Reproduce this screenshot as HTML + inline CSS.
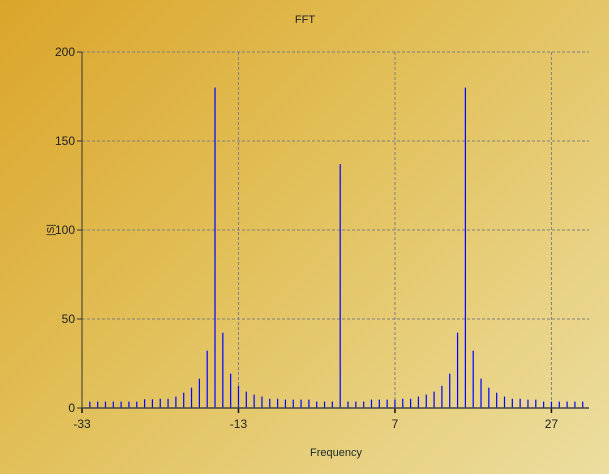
<!DOCTYPE html>
<html><head><meta charset="utf-8"><style>
html,body{margin:0;padding:0;}
body{width:609px;height:474px;overflow:hidden;background:linear-gradient(135deg,#dba52a 0%,#e2c05a 45%,#ecdea0 100%);font-family:"Liberation Sans",sans-serif;}
svg{display:block;}
svg text{font-family:"Liberation Sans",sans-serif;}
</style></head><body>
<svg id="chart" width="609" height="474" xmlns="http://www.w3.org/2000/svg">
<text x="305" y="23" font-size="11" text-anchor="middle" fill="#222">FFT</text>
<text x="336" y="456" font-size="11" text-anchor="middle" fill="#1a2a2a">Frequency</text>
<text x="0" y="0" font-size="10" text-anchor="middle" fill="#222" transform="translate(54,230) rotate(-90)">|S|</text>
<g id="grid"></g><g id="bars"></g><g id="axes"></g>
</svg>
<script>
const freqs=[];for(let k=-32;k<=31;k++)freqs.push(k);
const magnitudes=[3.6,3.6,3.6,3.6,3.6,3.6,3.6,4.9,4.9,5.2,5.2,6.4,8.6,11.4,16.5,32.2,180,42.3,19.3,12.5,9.2,7.5,6.4,5.2,5.2,4.7,4.7,4.7,4.7,3.6,3.6,3.6,137,
3.6,3.6,3.6,4.7,4.7,4.7,4.7,5.2,5.2,6.4,7.5,9.2,12.5,19.3,42.3,180,32.2,16.5,11.4,8.6,6.4,5.2,5.2,4.7,4.7,3.6,3.6,3.6,3.6,3.6,3.6];
const xTicks=[-33,-13,7,27];
const yTicks=[0,50,100,150,200];
const L=82,R=589,T=52,B=408,xmin=-33,xmax=31.8,ymax=200;
const sx=v=>L+(v-xmin)/(xmax-xmin)*(R-L);
const sy=v=>B-v/ymax*(B-T);
const NS='http://www.w3.org/2000/svg';
function mk(tag,attrs,parent){const e=document.createElementNS(NS,tag);for(const k in attrs)e.setAttribute(k,attrs[k]);document.getElementById(parent).appendChild(e);return e;}
yTicks.forEach(t=>{
 if(t>0){const g=mk('line',{x1:L,x2:R,y1:sy(t),y2:sy(t),stroke:'#808080','stroke-dasharray':'3,2'},'grid');
 
 }
 const tk=mk('line',{x1:L-5,x2:L,y1:sy(t),y2:sy(t),stroke:'#333'},'axes');
 
 
 const tx=mk('text',{x:L-7,y:sy(t)+4,'font-size':'12','text-anchor':'end',fill:'#222'},'axes');tx.textContent=t;
 
 
});
xTicks.forEach(t=>{
 if(t>xmin){const g=mk('line',{x1:sx(t),x2:sx(t),y1:T,y2:B,stroke:'#808080','stroke-dasharray':'3,2'},'grid');
 
 }
 const tk=mk('line',{x1:sx(t),x2:sx(t),y1:B,y2:B+5,stroke:'#111','stroke-width':'1.5'},'axes');
 
 
 const tx=mk('text',{x:sx(t),y:B+20,'font-size':'12','text-anchor':'middle',fill:'#222'},'axes');tx.textContent=t;
 
 
});
freqs.forEach((f,i)=>{
 const b=mk('line',{x1:sx(f),x2:sx(f),y1:B,y2:sy(magnitudes[i]),stroke:'#0000ff','stroke-width':'1.2'},'bars');
 
 
});
const ya=mk('line',{x1:L,x2:L,y1:T,y2:B,stroke:'#333'},'axes');


const xa=mk('line',{x1:L,x2:R,y1:B,y2:B,stroke:'#444','stroke-width':'1.5'},'axes');


</script>
</body></html>
